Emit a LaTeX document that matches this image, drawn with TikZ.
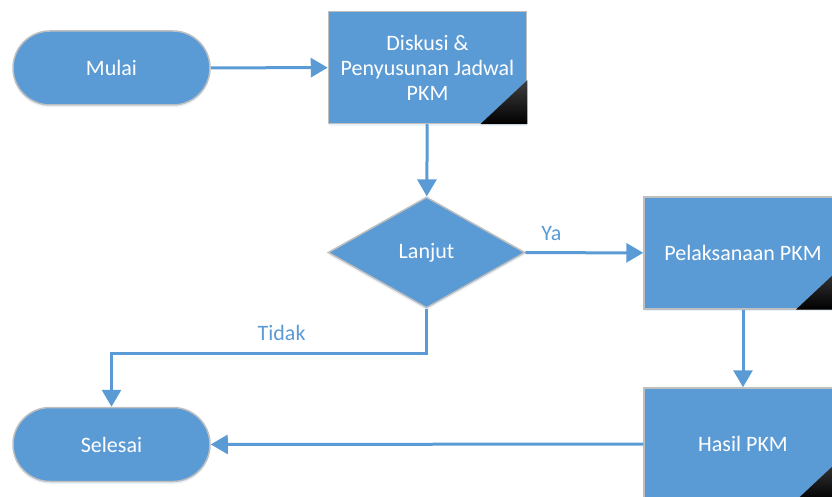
\documentclass[tikz,border=0pt]{standalone}
\usepackage{fontspec}
\setmainfont{Carlito}
\usepackage{tikz}
\usetikzlibrary{shapes.geometric,arrows.meta,positioning,calc,shadows}
\definecolor{flowblue}{RGB}{91,155,213}
\definecolor{flowgray}{RGB}{191,191,191}

\begin{document}
\begin{tikzpicture}[
  font=\fontsize{6.26pt}{7.1pt}\selectfont,
  base/.style={fill=flowblue, draw=flowgray, line width=0.015cm, text=white, align=center,
    drop shadow={shadow xshift=0cm, shadow yshift=-0.025cm, fill=flowblue!35, opacity=0.35}},
  terminal/.style={base, rectangle, rounded corners=0.37cm, minimum width=1.97cm, minimum height=0.74cm},
  process/.style={base, rectangle, minimum width=1.98cm, minimum height=1.12cm, inner sep=0pt},
  decision/.style={base, diamond, aspect=1.77, minimum width=1.97cm, minimum height=1.11cm, inner sep=0pt},
  flow/.style={draw=flowblue, line width=0.03cm, -{Triangle[length=0.17cm,width=0.19cm]}},
  flowlabel/.style={text=flowblue}
]
\useasboundingbox (0,0) rectangle (8.32,-4.97);

\node (mulai) [terminal] at (1.115,-0.68) {Mulai};
\node (diskusi) [process] at (4.275,-0.675) {Diskusi \&\\Penyusunan Jadwal\\PKM};
\node (lanjut) [decision] at (4.265,-2.525) {Lanjut};
\node (pelaksanaan) [process] at (7.43,-2.53) {Pelaksanaan PKM};
\node (hasil) [process] at (7.43,-4.44) {Hasil PKM};
\node (selesai) [terminal] at (1.115,-4.445) {Selesai};

% sudut hitam pada kotak proses
\foreach \proc in {diskusi,pelaksanaan,hasil}
  \shade [top color=black!75, bottom color=black] ($(\proc.south east)+(-0.47,0)$) -- (\proc.south east) -- ++(0,0.44) -- cycle;

\coordinate (bend) at (4.265,-3.53);

\draw [flow] (mulai) -- (diskusi);
\draw [flow] (diskusi) -- (lanjut);
\draw [flow] (lanjut) -- node[flowlabel, pos=0.22, above=-0.01cm] {Ya} (pelaksanaan);
\draw [flow] (lanjut.south) -- (bend) -| node[flowlabel, pos=0.23, above=-0.01cm] {Tidak} (selesai.north);
\draw [flow] (pelaksanaan) -- (hasil);
\draw [flow] (hasil) -- (selesai);
\end{tikzpicture}
\end{document}
